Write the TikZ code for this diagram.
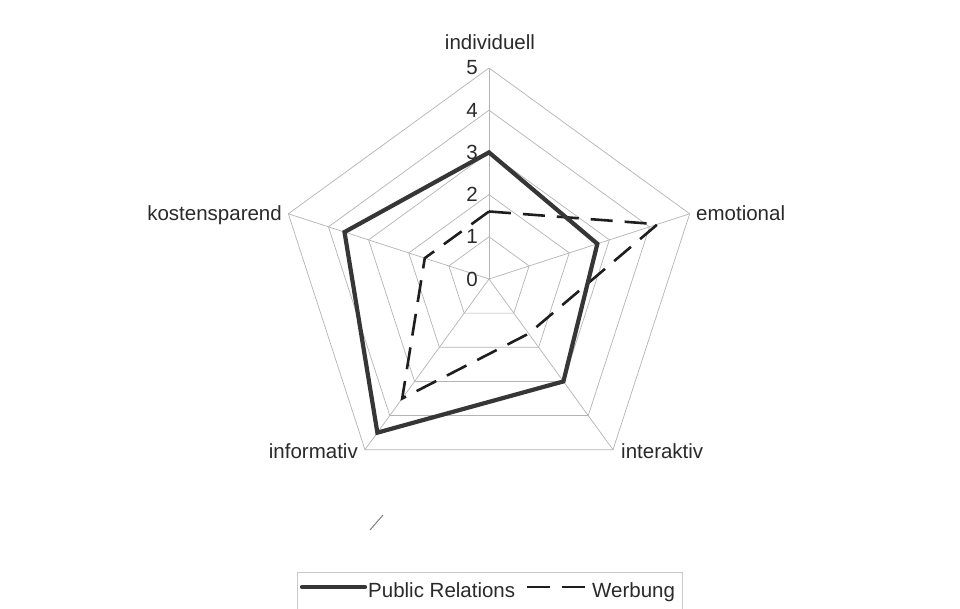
\documentclass[tikz,border=0pt]{standalone}
\usepackage{fontspec}
\setmainfont{Liberation Sans}
\usetikzlibrary{calc}
\definecolor{gridgray}{HTML}{B4B4B4}
\definecolor{prgray}{HTML}{363636}
\definecolor{wbblack}{HTML}{1E1E1E}
\definecolor{labelgray}{HTML}{2A2A2A}
\definecolor{framegray}{HTML}{C8C8C8}
\begin{document}
\begin{tikzpicture}[x=1pt,y=1pt,
  grid/.style={draw=gridgray, line width=0.7pt},
  prline/.style={draw=prgray, line width=4.2pt, line join=miter},
  wbline/.style={draw=wbblack, line width=2.6pt, dash pattern=on 22pt off 12pt},
  axislabel/.style={font=\fontsize{20.5}{24}\selectfont, text=labelgray, inner sep=0pt},
  ticklabel/.style={font=\fontsize{20.5}{24}\selectfont, text=labelgray, inner sep=0pt, anchor=east},
  legendframe/.style={draw=framegray, line width=0.8pt}]
% canvas
\fill[white] (-489,-329) rectangle (471,279);
\useasboundingbox (-489,-329) rectangle (471,279);

% one unit on every axis
\def\u{42.2}

% spokes and outer corners
\foreach \a/\n in {90/ind,18/emo,-54/int,-126/inf,162/kos}{
  \coordinate (\n) at (\a:{5*\u});
  \draw[grid] (0,0) -- (\n);
}
% concentric rings 1..5
\foreach \k in {1,...,5}{
  \draw[grid] (90:{\k*\u}) -- (18:{\k*\u}) -- (-54:{\k*\u}) -- (-126:{\k*\u}) -- (162:{\k*\u}) -- cycle;
}

% scale numbers
\foreach \k in {0,...,5}{
  \node[ticklabel] (tick\k) at (-11,{\k*\u}) {\k};
}

% Werbung
\coordinate (w1) at (90:{1.6*\u});
\coordinate (w2) at (18:{4.2*\u});
\coordinate (w3) at (-54:{1.6*\u});
\coordinate (w4) at (-126:{3.5*\u});
\coordinate (w5) at (162:{1.6*\u});
\draw[wbline] (w1) -- (w2) -- (w3) -- (w4) -- (w5) -- cycle;

% Public Relations
\coordinate (p1) at (90:{3*\u});
\coordinate (p2) at (18:{2.7*\u});
\coordinate (p3) at (-54:{3*\u});
\coordinate (p4) at (-126:{4.5*\u});
\coordinate (p5) at (162:{3.6*\u});
\draw[prline] (p1) -- (p2) -- (p3) -- (p4) -- (p5) -- cycle;

% axis names
\node[axislabel, anchor=base] (lind) at (1,229) {individuell};
\node[axislabel, anchor=base west] (lemo) at (207,59) {emotional};
\node[axislabel, anchor=base west] (lint) at (132,-179) {interaktiv};
\node[axislabel, anchor=base east] (linf) at (-131,-179) {informativ};
\node[axislabel, anchor=base east] (lkos) at (-207,59) {kostensparend};

% legend
\draw[legendframe] (-192,-293) rectangle (193,-340);
\coordinate (lg1a) at (-187,-308);
\coordinate (lg1b) at (-124,-308);
\draw[prline, line cap=round] (lg1a) -- (lg1b);
\node[axislabel, anchor=base west] (lgpr) at (-121,-318) {Public Relations};
\coordinate (lg2a) at (38,-308);
\coordinate (lg2b) at (96,-308);
\draw[wbline, dash pattern=on 23pt off 12pt] (lg2a) -- (lg2b);
\node[axislabel, anchor=base west] (lgwb) at (103,-318) {Werbung};

% pencil stroke on the sheet
\draw[gray, line width=1pt] (-119,-251) -- (-106,-236);
\end{tikzpicture}
\end{document}
